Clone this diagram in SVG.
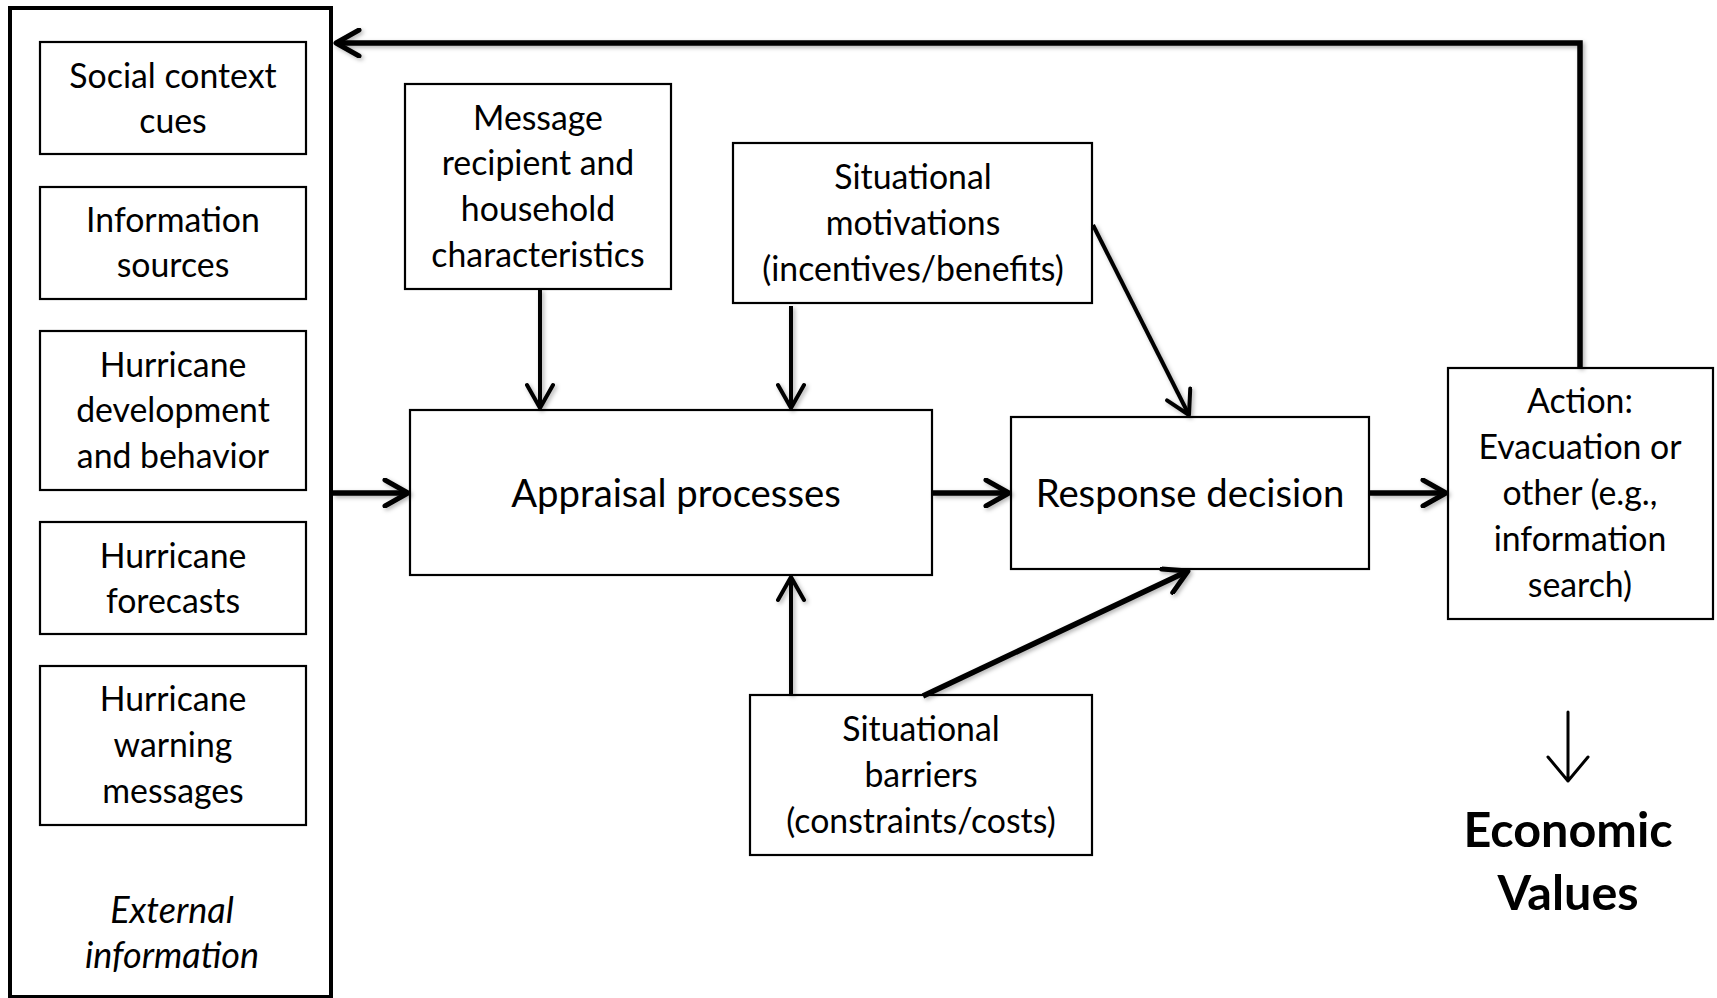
<svg xmlns="http://www.w3.org/2000/svg" width="1717" height="998" viewBox="0 0 1717 998">
<style>
.box{fill:#fff;stroke:#000;stroke-width:2.2}
.t{font-family:Lato,"Open Sans","Liberation Sans",sans-serif;font-size:33.8px;fill:#000;text-anchor:middle}
.big{font-size:38.3px}
.it{font-style:italic;font-size:36px}
.bold{font-weight:bold;font-size:48.5px}
.c{fill:none;stroke:#000;stroke-linecap:butt}
.thick{stroke-width:5.5}
.thin{stroke-width:4}
</style>
<defs>
<filter id="sh" x="-10%" y="-10%" width="120%" height="120%">
<feDropShadow dx="2" dy="2" stdDeviation="2" flood-color="#000" flood-opacity="0.3"/>
</filter>
<marker id="ah" viewBox="0 0 30 30" refX="27" refY="15" markerWidth="30" markerHeight="30" markerUnits="userSpaceOnUse" orient="auto">
<path d="M4,2 L27,15 L4,28" fill="none" stroke="#000" stroke-width="5" stroke-linecap="round" stroke-linejoin="round"/>
</marker>
<marker id="ah2" viewBox="0 0 30 30" refX="27" refY="15" markerWidth="30" markerHeight="30" markerUnits="userSpaceOnUse" orient="auto">
<path d="M4,2 L27,15 L4,28" fill="none" stroke="#000" stroke-width="4" stroke-linecap="round" stroke-linejoin="round"/>
</marker>
</defs>
<rect width="1717" height="998" fill="#fff"/>

<g id="external">
<rect x="10" y="8" width="321" height="989" fill="#fff" stroke="#000" stroke-width="4"/>
<text class="t it" x="172" y="923">External</text>
<text class="t it" x="172" y="968">information</text>
</g>
<g id="social">
<rect class="box" x="40" y="42" width="266" height="112"/>
<text class="t" x="173" y="88">Social context</text>
<text class="t" x="173" y="133">cues</text>
</g>
<g id="sources">
<rect class="box" x="40" y="187" width="266" height="112"/>
<text class="t" x="173" y="232">Information</text>
<text class="t" x="173" y="277">sources</text>
</g>
<g id="development">
<rect class="box" x="40" y="331" width="266" height="159"/>
<text class="t" x="173" y="377">Hurricane</text>
<text class="t" x="173" y="422">development</text>
<text class="t" x="173" y="468">and behavior</text>
</g>
<g id="forecasts">
<rect class="box" x="40" y="522" width="266" height="112"/>
<text class="t" x="173" y="568">Hurricane</text>
<text class="t" x="173" y="613">forecasts</text>
</g>
<g id="warning">
<rect class="box" x="40" y="666" width="266" height="159"/>
<text class="t" x="173" y="711">Hurricane</text>
<text class="t" x="173" y="757">warning</text>
<text class="t" x="173" y="803">messages</text>
</g>
<g id="recipient">
<rect class="box" x="405" y="84" width="266" height="205"/>
<text class="t" x="538" y="130">Message</text>
<text class="t" x="538" y="175">recipient and</text>
<text class="t" x="538" y="221">household</text>
<text class="t" x="538" y="267">characteristics</text>
</g>
<g id="motivations">
<rect class="box" x="733" y="143" width="359" height="160"/>
<text class="t" x="913" y="189">Situational</text>
<text class="t" x="913" y="235">motivations</text>
<text class="t" x="913" y="281">(incentives/benefits)</text>
</g>
<g id="appraisal">
<rect class="box" x="410" y="410" width="522" height="165"/>
<text class="t big" x="676" y="507">Appraisal processes</text>
</g>
<g id="response">
<rect class="box" x="1011" y="417" width="358" height="152"/>
<text class="t big" x="1190" y="507">Response decision</text>
</g>
<g id="action">
<rect class="box" x="1448" y="368" width="265" height="251"/>
<text class="t" x="1580" y="413">Action:</text>
<text class="t" x="1580" y="459">Evacuation or</text>
<text class="t" x="1580" y="505">other (e.g.,</text>
<text class="t" x="1580" y="551">information</text>
<text class="t" x="1580" y="597">search)</text>
</g>
<g id="barriers">
<rect class="box" x="750" y="695" width="342" height="160"/>
<text class="t" x="921" y="741">Situational</text>
<text class="t" x="921" y="787">barriers</text>
<text class="t" x="921" y="833">(constraints/costs)</text>
</g>
<g id="economic">
<path d="M1568,712 V781 M1548,757 L1568,781 L1588,757" fill="none" stroke="#000" stroke-width="3" stroke-linecap="round" stroke-linejoin="round"/>
<text class="t bold" x="1568" y="847">Economic</text>
<text class="t bold" x="1568" y="910">Values</text>
</g>

<g id="connectors" filter="url(#sh)">
<path class="c thick" d="M1580,368 V43 H336" marker-end="url(#ah)"/>
<path class="c thick" d="M333,493 H408" marker-end="url(#ah)"/>
<path class="c thick" d="M932,493 H1009" marker-end="url(#ah)"/>
<path class="c thick" d="M1369,493 H1446" marker-end="url(#ah)"/>
<path class="c thin" d="M540,289 V408" marker-end="url(#ah2)"/>
<path class="c thin" d="M791,306 V408" marker-end="url(#ah2)"/>
<path class="c thin" d="M1093,225 L1189,415" marker-end="url(#ah2)"/>
<path class="c thin" d="M791,695 V577" marker-end="url(#ah2)"/>
<path class="c thick" d="M923,696 L1188,571" marker-end="url(#ah)"/>
</g>
</svg>
